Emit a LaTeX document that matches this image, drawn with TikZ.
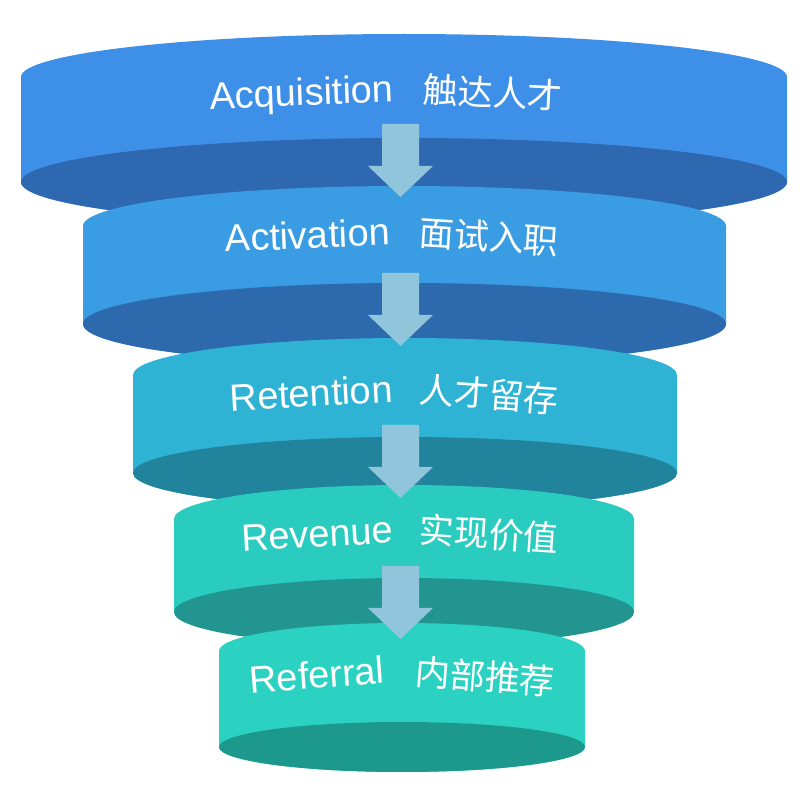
\documentclass[tikz,border=0pt]{standalone}
\usepackage{fontspec}
\setmainfont{Liberation Sans}
\newfontfamily\cjk{Noto Sans CJK SC}
\usetikzlibrary{positioning}

\definecolor{sideA}{HTML}{3D8FE8}
\definecolor{darkA}{HTML}{2E68B1}
\definecolor{sideB}{HTML}{3A9CE3}
\definecolor{darkB}{HTML}{2C6AAD}
\definecolor{sideC}{HTML}{2EB3D5}
\definecolor{darkC}{HTML}{22849C}
\definecolor{sideD}{HTML}{2ACCC0}
\definecolor{darkD}{HTML}{229590}
\definecolor{sideE}{HTML}{2BD2C2}
\definecolor{darkE}{HTML}{1C988C}
\definecolor{arrowblue}{HTML}{91C5DC}

\begin{document}
\begin{tikzpicture}[x=0.5pt, y=0.5pt,
    en/.style={anchor=base, inner sep=0pt, text=white,
      font=\fontsize{19}{21}\selectfont},
    cn/.style={anchor=base, inner sep=0pt, text=white,
      font=\cjk\fontsize{17.5}{20}\selectfont},
    downarrow/.style={fill=arrowblue}]

  \fill[white] (0,0) rectangle (800,800);
  \useasboundingbox (0,0) rectangle (800,800);

  % discs, top to bottom
  \fill[sideA] (21,723) arc[start angle=180, end angle=0, x radius=383, y radius=43]
    -- (787,618) arc[start angle=0, end angle=-180, x radius=383, y radius=44] -- cycle;
  \fill[darkA] (404,618) ellipse[x radius=383, y radius=44];

  \fill[sideB] (83,574) arc[start angle=180, end angle=0, x radius=321.5, y radius=40]
    -- (726,476) arc[start angle=0, end angle=-180, x radius=321.5, y radius=41] -- cycle;
  \fill[darkB] (404.5,476) ellipse[x radius=321.5, y radius=41];

  \fill[sideC] (133,425) arc[start angle=180, end angle=0, x radius=272, y radius=37]
    -- (677,327) arc[start angle=0, end angle=-180, x radius=272, y radius=36] -- cycle;
  \fill[darkC] (405,327) ellipse[x radius=272, y radius=36];

  \fill[sideD] (174,281) arc[start angle=180, end angle=0, x radius=230, y radius=34]
    -- (634,188) arc[start angle=0, end angle=-180, x radius=230, y radius=34] -- cycle;
  \fill[darkD] (404,188) ellipse[x radius=230, y radius=34];

  \fill[sideE] (219,149) arc[start angle=180, end angle=0, x radius=183, y radius=28]
    -- (585,53) arc[start angle=0, end angle=-180, x radius=183, y radius=25] -- cycle;
  \fill[darkE] (402,53) ellipse[x radius=183, y radius=25];

  % arrows between the discs
  \foreach \t in {676,527,375,234}
    \fill[downarrow] (382,\t) -- (419,\t) -- (419,\t-42) -- (433,\t-42)
      -- (400.5,\t-73) -- (368,\t-42) -- (382,\t-42) -- cycle;

  % labels
  \node[en, rotate=2.2] (acqEn) at (302,694.5) {Acquisition};
  \node[cn, rotate=-2.8] (acqCn) at (492,694) {触达人才};
  \node[en, rotate=2.4] (actEn) at (308,551.5) {Activation};
  \node[cn, rotate=-3.7] (actCn) at (488,550) {面试入职};
  \node[en, rotate=3.2] (retEn) at (312,393.5) {Retention};
  \node[cn, rotate=-4.2] (retCn) at (488,392.5) {人才留存};
  \node[en, rotate=3.2] (revEn) at (318,253) {Revenue};
  \node[cn, rotate=-3.7] (revCn) at (488,253) {实现价值};
  \node[en, rotate=4.3] (refEn) at (318,112) {Referral};
  \node[cn, rotate=-4.5] (refCn) at (484,110) {内部推荐};
\end{tikzpicture}
\end{document}
